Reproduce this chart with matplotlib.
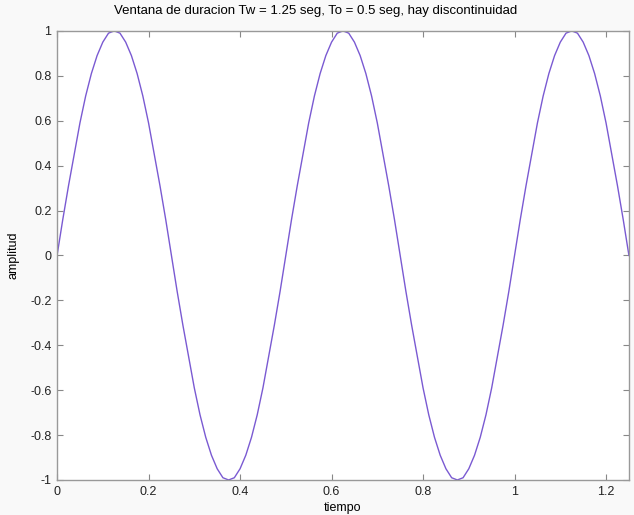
import matplotlib.pyplot as plt

plt.rcParams['font.family'] = ['Liberation Sans', 'DejaVu Sans']

# muestras (Tw = 1.25 seg, To = 0.5 seg)
tiempo = [0.0000, 0.0125, 0.0250, 0.0375, 0.0500, 0.0625, 0.0750, 0.0875, 0.1000, 0.1125,
          0.1250, 0.1375, 0.1500, 0.1625, 0.1750, 0.1875, 0.2000, 0.2125, 0.2250, 0.2375,
          0.2500, 0.2625, 0.2750, 0.2875, 0.3000, 0.3125, 0.3250, 0.3375, 0.3500, 0.3625,
          0.3750, 0.3875, 0.4000, 0.4125, 0.4250, 0.4375, 0.4500, 0.4625, 0.4750, 0.4875,
          0.5000, 0.5125, 0.5250, 0.5375, 0.5500, 0.5625, 0.5750, 0.5875, 0.6000, 0.6125,
          0.6250, 0.6375, 0.6500, 0.6625, 0.6750, 0.6875, 0.7000, 0.7125, 0.7250, 0.7375,
          0.7500, 0.7625, 0.7750, 0.7875, 0.8000, 0.8125, 0.8250, 0.8375, 0.8500, 0.8625,
          0.8750, 0.8875, 0.9000, 0.9125, 0.9250, 0.9375, 0.9500, 0.9625, 0.9750, 0.9875,
          1.0000, 1.0125, 1.0250, 1.0375, 1.0500, 1.0625, 1.0750, 1.0875, 1.1000, 1.1125,
          1.1250, 1.1375, 1.1500, 1.1625, 1.1750, 1.1875, 1.2000, 1.2125, 1.2250, 1.2375,
          1.2500]
amplitud = [0.00, 0.16, 0.31, 0.45, 0.59, 0.71, 0.81, 0.89, 0.95, 0.99,
            1.00, 0.99, 0.95, 0.89, 0.81, 0.71, 0.59, 0.45, 0.31, 0.16,
            0.00, -0.16, -0.31, -0.45, -0.59, -0.71, -0.81, -0.89, -0.95, -0.99,
            -1.00, -0.99, -0.95, -0.89, -0.81, -0.71, -0.59, -0.45, -0.31, -0.16,
            0.00, 0.16, 0.31, 0.45, 0.59, 0.71, 0.81, 0.89, 0.95, 0.99,
            1.00, 0.99, 0.95, 0.89, 0.81, 0.71, 0.59, 0.45, 0.31, 0.16,
            0.00, -0.16, -0.31, -0.45, -0.59, -0.71, -0.81, -0.89, -0.95, -0.99,
            -1.00, -0.99, -0.95, -0.89, -0.81, -0.71, -0.59, -0.45, -0.31, -0.16,
            0.00, 0.16, 0.31, 0.45, 0.59, 0.71, 0.81, 0.89, 0.95, 0.99,
            1.00, 0.99, 0.95, 0.89, 0.81, 0.71, 0.59, 0.45, 0.31, 0.16,
            0.00]

xticks = [0, 0.2, 0.4, 0.6, 0.8, 1, 1.2]
yticks = [-1, -0.8, -0.6, -0.4, -0.2, 0, 0.2, 0.4, 0.6, 0.8, 1]

fig = plt.figure(figsize=(6.34, 5.15), dpi=100, facecolor='#f9f9f9')
ax = fig.add_axes([0.09, 0.068, 0.902, 0.872])
ax.plot(tiempo, amplitud, color='#7a5ad2', lw=1)

ax.set_xlim(0, 1.25)
ax.set_ylim(-1, 1)
ax.set_xticks(xticks)
ax.set_xticklabels(['0', '0.2', '0.4', '0.6', '0.8', '1', '1.2'])
ax.set_yticks(yticks)
ax.set_yticklabels(['-1', '-0.8', '-0.6', '-0.4', '-0.2', '0', '0.2', '0.4', '0.6', '0.8', '1'])
ax.tick_params(direction='in', top=True, right=True, length=4, labelsize=9,
               color='#888888', labelcolor='#222222', pad=4)
for s in ax.spines.values():
    s.set_color('#999999')
    s.set_linewidth(1)

ax.set_xlabel('tiempo', fontsize=9, labelpad=3)
ax.set_ylabel('amplitud', fontsize=9, labelpad=8)
ax.set_title('Ventana de duracion Tw = 1.25 seg, To = 0.5 seg, hay discontinuidad',
             fontsize=9.5, pad=12, x=0.452)

fig.savefig('out.png', dpi=100, facecolor=fig.get_facecolor())
